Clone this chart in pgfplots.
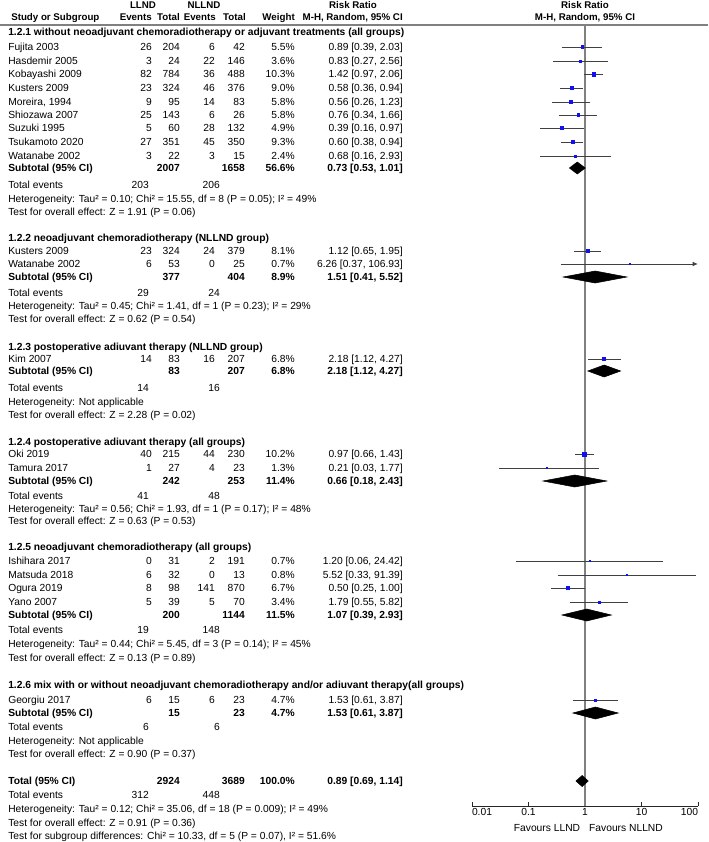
\documentclass[border=0pt]{standalone}
\usepackage{fontspec}
\setmainfont{Liberation Sans}
\usepackage{pgfplots}
\pgfplotsset{compat=1.18}
\usepackage{pgfplotstable}
\usetikzlibrary{arrows.meta}
\newcommand\fs{\fontsize{7.7}{9}\selectfont}
\newcommand\hs{\fontsize{7.3}{9}\selectfont\bfseries}
\definecolor{MarkBlue}{HTML}{1010F0}

% studies: risk ratio, CI, row (negative pixel row), weight %
\pgfplotstableread{
rr   lo   hi     y    w
0.89 0.39 2.03   -47  5.5
0.83 0.27 2.56   -61  3.6
1.42 0.97 2.06   -74  10.3
0.58 0.36 0.94   -88  9.0
0.56 0.26 1.23   -102 5.8
0.76 0.34 1.66   -115 5.8
0.39 0.16 0.97   -128 4.9
0.60 0.38 0.94   -142 9.3
0.68 0.16 2.93   -156 2.4
1.12 0.65 1.95   -251 8.1
6.26 0.37 106.93 -264 0.7
2.18 1.12 4.27   -359 6.8
0.97 0.66 1.43   -454 10.2
0.21 0.03 1.77   -468 1.3
1.20 0.06 24.42  -561 0.7
5.52 0.33 91.39  -575 0.8
0.50 0.25 1.00   -588 6.7
1.79 0.55 5.82   -602 3.4
1.53 0.61 3.87   -700 4.7
}\studies

\tikzset{
  t/.style={inner sep=0pt, text height=5.5pt, text depth=0pt, font=\fs},
  L/.style={t, anchor=west},
  R/.style={t, anchor=east},
  C/.style={t, anchor=center},
}

\begin{document}
\begin{tikzpicture}
\begin{scope}[x=0.75pt, y=-0.75pt]
\path[use as bounding box] (0,0) rectangle (708,842);
% header
\node[C] at (143,5) {\hs LLND};
\node[C] at (204,5) {\hs NLLND};
\node[C] at (353,5) {\hs Risk Ratio};
\node[C] at (585,5) {\hs Risk Ratio};
\node[L] at (11,17) {\hs Study or Subgroup};
\node[R] at (152,17) {\hs Events};
\node[R] at (180,17) {\hs Total};
\node[R] at (216,17) {\hs Events};
\node[R] at (246,17) {\hs Total};
\node[R] at (295,17) {\hs Weight};
\node[R] at (403,17) {\hs M-H, Random, 95\% CI};
\node[C] at (585,17) {\hs M-H, Random, 95\% CI};
\draw[gray, line width=1pt] (0,25) -- (708,25);

% study row: y, name, e1, n1, e2, n2, weight, rr
\newcommand\row[8]{%
  \node[L] at (8,#1) {#2};
  \node[R] at (152,#1) {#3};
  \node[R] at (180,#1) {#4};
  \node[R] at (215,#1) {#5};
  \node[R] at (245,#1) {#6};
  \node[R] at (295,#1) {#7};
  \node[R] at (403,#1) {#8};}
\newcommand\sub[5]{%
  \node[L] at (8,#1) {\bfseries #2};
  \node[R] at (180,#1) {\bfseries #3};
  \node[R] at (245,#1) {\bfseries #4};
  \node[R] at (295,#1) {\bfseries #5};}
\newcommand\tev[3]{%
  \node[L] at (8,#1) {Total events};
  \node[R] at (149,#1) {#2};
  \node[R] at (220,#1) {#3};}

\node[L] at (8,32) {\bfseries 1.2.1 without neoadjuvant chemoradiotherapy or adjuvant treatments (all groups)};
\row{47}{Fujita 2003}{26}{204}{6}{42}{5.5\%}{0.89 [0.39, 2.03]}
\row{61}{Hasdemir 2005}{3}{24}{22}{146}{3.6\%}{0.83 [0.27, 2.56]}
\row{74}{Kobayashi 2009}{82}{784}{36}{488}{10.3\%}{1.42 [0.97, 2.06]}
\row{88}{Kusters 2009}{23}{324}{46}{376}{9.0\%}{0.58 [0.36, 0.94]}
\row{102}{Moreira, 1994}{9}{95}{14}{83}{5.8\%}{0.56 [0.26, 1.23]}
\row{115}{Shiozawa 2007}{25}{143}{6}{26}{5.8\%}{0.76 [0.34, 1.66]}
\row{128}{Suzuki 1995}{5}{60}{28}{132}{4.9\%}{0.39 [0.16, 0.97]}
\row{142}{Tsukamoto 2020}{27}{351}{45}{350}{9.3\%}{0.60 [0.38, 0.94]}
\row{156}{Watanabe 2002}{3}{22}{3}{15}{2.4\%}{0.68 [0.16, 2.93]}
\sub{168}{Subtotal (95\% CI)}{2007}{1658}{56.6\%}
\node[R] at (403,168) {\bfseries 0.73 [0.53, 1.01]};
\tev{185}{203}{206}
\node[L] at (8,199) {Heterogeneity: Tau² = 0.10; Chi² = 15.55, df = 8 (P = 0.05); I² = 49\%};
\node[L] at (8,212) {Test for overall effect: Z = 1.91 (P = 0.06)};

\node[L] at (8,238) {\bfseries 1.2.2 neoadjuvant chemoradiotherapy (NLLND group)};
\row{251}{Kusters 2009}{23}{324}{24}{379}{8.1\%}{1.12 [0.65, 1.95]}
\row{264}{Watanabe 2002}{6}{53}{0}{25}{0.7\%}{6.26 [0.37, 106.93]}
\sub{277}{Subtotal (95\% CI)}{377}{404}{8.9\%}
\node[R] at (403,277) {\bfseries 1.51 [0.41, 5.52]};
\tev{293}{29}{24}
\node[L] at (8,306) {Heterogeneity: Tau² = 0.45; Chi² = 1.41, df = 1 (P = 0.23); I² = 29\%};
\node[L] at (8,319) {Test for overall effect: Z = 0.62 (P = 0.54)};

\node[L] at (8,347) {\bfseries 1.2.3 postoperative adiuvant therapy (NLLND group)};
\row{359}{Kim 2007}{14}{83}{16}{207}{6.8\%}{2.18 [1.12, 4.27]}
\sub{371}{Subtotal (95\% CI)}{83}{207}{6.8\%}
\node[R] at (403,371) {\bfseries 2.18 [1.12, 4.27]};
\tev{388}{14}{16}
\node[L] at (8,402) {Heterogeneity: Not applicable};
\node[L] at (8,415) {Test for overall effect: Z = 2.28 (P = 0.02)};

\node[L] at (8,442) {\bfseries 1.2.4 postoperative adiuvant therapy (all groups)};
\row{454}{Oki 2019}{40}{215}{44}{230}{10.2\%}{0.97 [0.66, 1.43]}
\row{468}{Tamura 2017}{1}{27}{4}{23}{1.3\%}{0.21 [0.03, 1.77]}
\sub{481}{Subtotal (95\% CI)}{242}{253}{11.4\%}
\node[R] at (403,481) {\bfseries 0.66 [0.18, 2.43]};
\tev{496}{41}{48}
\node[L] at (8,509) {Heterogeneity: Tau² = 0.56; Chi² = 1.93, df = 1 (P = 0.17); I² = 48\%};
\node[L] at (8,521) {Test for overall effect: Z = 0.63 (P = 0.53)};

\node[L] at (8,547) {\bfseries 1.2.5 neoadjuvant chemoradiotherapy (all groups)};
\row{561}{Ishihara 2017}{0}{31}{2}{191}{0.7\%}{1.20 [0.06, 24.42]}
\row{575}{Matsuda 2018}{6}{32}{0}{13}{0.8\%}{5.52 [0.33, 91.39]}
\row{588}{Ogura 2019}{8}{98}{141}{870}{6.7\%}{0.50 [0.25, 1.00]}
\row{602}{Yano 2007}{5}{39}{5}{70}{3.4\%}{1.79 [0.55, 5.82]}
\sub{615}{Subtotal (95\% CI)}{200}{1144}{11.5\%}
\node[R] at (403,615) {\bfseries 1.07 [0.39, 2.93]};
\tev{630}{19}{148}
\node[L] at (8,644) {Heterogeneity: Tau² = 0.44; Chi² = 5.45, df = 3 (P = 0.14); I² = 45\%};
\node[L] at (8,658) {Test for overall effect: Z = 0.13 (P = 0.89)};

\node[L] at (8,685) {\bfseries 1.2.6 mix with or without neoadjuvant chemoradiotherapy and/or adiuvant therapy(all groups)};
\row{700}{Georgiu 2017}{6}{15}{6}{23}{4.7\%}{1.53 [0.61, 3.87]}
\sub{713}{Subtotal (95\% CI)}{15}{23}{4.7\%}
\node[R] at (403,713) {\bfseries 1.53 [0.61, 3.87]};
\tev{727}{6}{6}
\node[L] at (8,741) {Heterogeneity: Not applicable};
\node[L] at (8,754) {Test for overall effect: Z = 0.90 (P = 0.37)};

\sub{781}{Total (95\% CI)}{2924}{3689}{100.0\%}
\node[R] at (403,781) {\bfseries 0.89 [0.69, 1.14]};
\tev{795}{312}{448}
\node[L] at (8,809) {Heterogeneity: Tau² = 0.12; Chi² = 35.06, df = 18 (P = 0.009); I² = 49\%};
\node[L] at (8,823) {Test for overall effect: Z = 0.91 (P = 0.36)};
\node[L] at (8,836) {Test for subgroup differences: Chi² = 10.33, df = 5 (P = 0.07), I² = 51.6\%};

\node[C] at (547,828) {Favours LLND};
\node[C] at (626,828) {Favours NLLND};
\end{scope}

\begin{axis}[
  at={(354pt,-604.5pt)}, anchor=south west,
  scale only axis, width=169.5pt, height=585.75pt,
  xmode=log, xmin=0.01, xmax=100, ymin=-806, ymax=-25,
  axis x line*=bottom, axis y line=none,
  x axis line style={-, draw=black!85, line width=0.75pt},
  clip=false,
  xtick={0.01,0.1,1,10,100},
  xticklabels={\makebox[0pt][l]{0.01},0.1,1,10,\makebox[0pt][r]{100}},
  xminorticks=false,
  tick align=inside, major tick length=3pt,
  tick style={draw=black!85, line width=0.75pt},
  xticklabel style={font=\fs, inner sep=1.5pt},
  /pgf/number format/assume math mode=true,
]
% line of no effect
\addplot[gray, line width=0.9pt] coordinates {(1,-25) (1,-806)};
% confidence intervals
\addplot[black!75, line width=0.75pt, unbounded coords=jump] coordinates {
(0.39,-47) (2.03,-47) (nan,nan)
(0.27,-61) (2.56,-61) (nan,nan)
(0.97,-74) (2.06,-74) (nan,nan)
(0.36,-88) (0.94,-88) (nan,nan)
(0.26,-102) (1.23,-102) (nan,nan)
(0.34,-115) (1.66,-115) (nan,nan)
(0.16,-128) (0.97,-128) (nan,nan)
(0.38,-142) (0.94,-142) (nan,nan)
(0.16,-156) (2.93,-156) (nan,nan)
(0.65,-251) (1.95,-251) (nan,nan)
(1.12,-359) (4.27,-359) (nan,nan)
(0.66,-454) (1.43,-454) (nan,nan)
(0.03,-468) (1.77,-468) (nan,nan)
(0.06,-561) (24.42,-561) (nan,nan)
(0.33,-575) (91.39,-575) (nan,nan)
(0.25,-588) (1.00,-588) (nan,nan)
(0.55,-602) (5.82,-602) (nan,nan)
(0.61,-700) (3.87,-700)
};
% Watanabe 2002 runs past the axis
\addplot[black!75, line width=0.75pt, -{Latex[length=4pt,width=3.5pt]}] coordinates {(0.37,-264) (100,-264)};
% study estimates, square area by weight
\addplot[only marks, mark=square*, color=MarkBlue, scatter,
  scatter/use mapped color={draw=MarkBlue, fill=MarkBlue},
  visualization depends on={0.42*sqrt(\thisrow{w}) \as \msz},
  scatter/@pre marker code/.append style={/tikz/mark size=\msz}]
  table[x=rr, y=y] {\studies};
% pooled diamonds
\addplot[fill=black, draw=black] coordinates {(0.53,-168) (0.73,-162) (1.01,-168) (0.73,-174)} -- cycle;
\addplot[fill=black, draw=black] coordinates {(0.41,-277) (1.51,-271) (5.52,-277) (1.51,-283)} -- cycle;
\addplot[fill=black, draw=black] coordinates {(1.12,-371) (2.18,-365) (4.27,-371) (2.18,-377)} -- cycle;
\addplot[fill=black, draw=black] coordinates {(0.18,-481) (0.66,-475) (2.43,-481) (0.66,-487)} -- cycle;
\addplot[fill=black, draw=black] coordinates {(0.39,-615) (1.07,-609) (2.93,-615) (1.07,-621)} -- cycle;
\addplot[fill=black, draw=black] coordinates {(0.61,-713) (1.53,-707) (3.87,-713) (1.53,-719)} -- cycle;
\addplot[fill=black, draw=black] coordinates {(0.69,-781) (0.89,-775.5) (1.14,-781) (0.89,-786.5)} -- cycle;
\end{axis}
\end{tikzpicture}
\end{document}
